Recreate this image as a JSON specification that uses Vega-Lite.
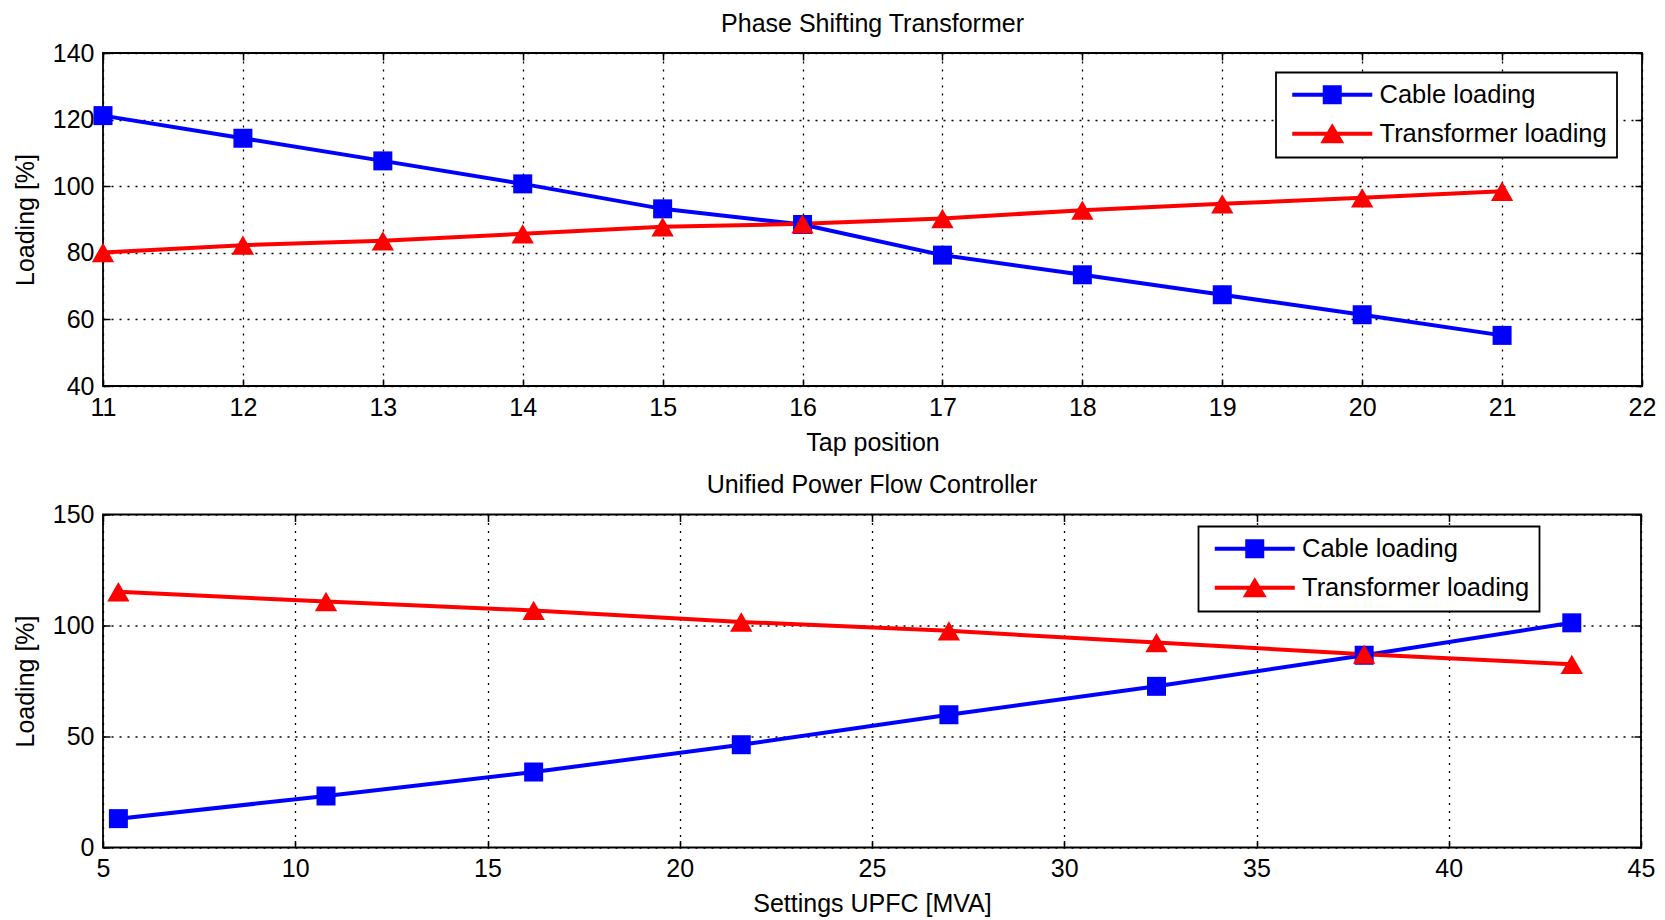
{
  "$schema": "https://vega.github.io/schema/vega-lite/v6.json",
  "background": "white",
  "padding": {"left": 12, "top": 10, "right": 8, "bottom": 4},
  "datasets": {
    "pst": [
      {"tap": 11, "loading": 121.2, "series": "Cable loading"},
      {"tap": 12, "loading": 114.4, "series": "Cable loading"},
      {"tap": 13, "loading": 107.6, "series": "Cable loading"},
      {"tap": 14, "loading": 100.7, "series": "Cable loading"},
      {"tap": 15, "loading": 93.2, "series": "Cable loading"},
      {"tap": 16, "loading": 88.5, "series": "Cable loading"},
      {"tap": 17, "loading": 79.3, "series": "Cable loading"},
      {"tap": 18, "loading": 73.4, "series": "Cable loading"},
      {"tap": 19, "loading": 67.4, "series": "Cable loading"},
      {"tap": 20, "loading": 61.4, "series": "Cable loading"},
      {"tap": 21, "loading": 55.2, "series": "Cable loading"},
      {"tap": 11, "loading": 80.1, "series": "Transformer loading"},
      {"tap": 12, "loading": 82.3, "series": "Transformer loading"},
      {"tap": 13, "loading": 83.6, "series": "Transformer loading"},
      {"tap": 14, "loading": 85.7, "series": "Transformer loading"},
      {"tap": 15, "loading": 87.8, "series": "Transformer loading"},
      {"tap": 16, "loading": 88.7, "series": "Transformer loading"},
      {"tap": 17, "loading": 90.3, "series": "Transformer loading"},
      {"tap": 18, "loading": 92.8, "series": "Transformer loading"},
      {"tap": 19, "loading": 94.7, "series": "Transformer loading"},
      {"tap": 20, "loading": 96.5, "series": "Transformer loading"},
      {"tap": 21, "loading": 98.5, "series": "Transformer loading"}
    ],
    "upfc": [
      {"mva": 5.4, "loading": 13.0, "series": "Cable loading"},
      {"mva": 10.8, "loading": 23.2, "series": "Cable loading"},
      {"mva": 16.2, "loading": 34.0, "series": "Cable loading"},
      {"mva": 21.6, "loading": 46.3, "series": "Cable loading"},
      {"mva": 27.0, "loading": 59.8, "series": "Cable loading"},
      {"mva": 32.4, "loading": 72.6, "series": "Cable loading"},
      {"mva": 37.8, "loading": 86.6, "series": "Cable loading"},
      {"mva": 43.2, "loading": 101.2, "series": "Cable loading"},
      {"mva": 5.4, "loading": 115.2, "series": "Transformer loading"},
      {"mva": 10.8, "loading": 110.8, "series": "Transformer loading"},
      {"mva": 16.2, "loading": 106.8, "series": "Transformer loading"},
      {"mva": 21.6, "loading": 101.6, "series": "Transformer loading"},
      {"mva": 27.0, "loading": 97.6, "series": "Transformer loading"},
      {"mva": 32.4, "loading": 92.3, "series": "Transformer loading"},
      {"mva": 37.8, "loading": 87.1, "series": "Transformer loading"},
      {"mva": 43.2, "loading": 82.5, "series": "Transformer loading"}
    ]
  },
  "config": {
    "font": "Liberation Sans",
    "view": {"stroke": "black", "strokeWidth": 1.8},
    "axis": {
      "labelFont": "Liberation Sans",
      "labelFontSize": 25,
      "labelColor": "black",
      "titleFont": "Liberation Sans",
      "titleFontSize": 25,
      "titleFontWeight": "normal",
      "titleColor": "black",
      "grid": true,
      "gridColor": "black",
      "gridDash": [2, 6],
      "gridWidth": 1.3,
      "gridOpacity": 1,
      "domain": false,
      "tickColor": "black",
      "tickWidth": 1.5,
      "tickSize": -7,
      "labelPadding": 16,
      "labelOverlap": false,
      "labelFlush": false
    },
    "legend": {
      "title": null,
      "labelFont": "Liberation Sans", "labelFontSize": 25.5, "labelColor": "black", "labelLimit": 400,
      "padding": 9.5, "rowPadding": 12, "symbolOffset": 34, "labelOffset": 34.5,
      "strokeColor": "black", "fillColor": "white", "cornerRadius": 0
    },
    "title": {"font": "Liberation Sans", "fontSize": 25, "fontWeight": "normal", "color": "black", "anchor": "middle", "frame": "group", "offset": 4.5},
    "concat": {"spacing": 15.5}
  },
  "resolve": {"scale": {"color": "independent"}, "legend": {"color": "independent"}},
  "vconcat": [
    {
      "title": "Phase Shifting Transformer",
      "width": 1539,
      "height": 333,
      "data": {"name": "pst"},
      "layer": [
        {
          "mark": {"type": "line", "strokeWidth": 4},
          "encoding": {
            "x": {"field": "tap", "type": "quantitative", "scale": {"domain": [11, 22], "nice": false, "zero": false},
                  "axis": {"values": [11, 12, 13, 14, 15, 16, 17, 18, 19, 20, 21, 22], "title": "Tap position", "titlePadding": 10}},
            "y": {"field": "loading", "type": "quantitative", "scale": {"domain": [40, 140], "nice": false, "zero": false},
                  "axis": {"values": [40, 60, 80, 100, 120, 140], "title": "Loading [%]", "titlePadding": 14}},
            "color": {"field": "series", "type": "nominal",
                      "scale": {"domain": ["Cable loading", "Transformer loading"], "range": ["#0000ff", "#ff0000"]},
                      "legend": {
                        "orient": "none", "legendX": 1173, "legendY": 19.5,
                        "encode": {
                          "legend": {"update": {"strokeWidth": {"value": 1.8}}},
                          "symbols": {"update": {
                            "shape": {"signal": "datum.value === 'Cable loading' ? 'M-40,-2H40V2H-40Z M-9.5,-9.5H9.5V9.5H-9.5Z' : 'M-40,-2H40V2H-40Z M0,-10.5L12,9.5H-12Z'"},
                            "size": {"value": 4},
                            "fill": {"signal": "datum.value === 'Cable loading' ? '#0000ff' : '#ff0000'"},
                            "stroke": {"value": null},
                            "strokeWidth": {"value": 0},
                            "opacity": {"value": 1},
                            "fillOpacity": {"value": 1}
                          }}
                        }
                      }}
          }
        },
        {
          "transform": [{"filter": "datum.series === 'Cable loading'"}],
          "mark": {"type": "point", "shape": "square", "filled": true, "opacity": 1, "size": 361, "color": "#0000ff"},
          "encoding": {
            "x": {"field": "tap", "type": "quantitative", "axis": {"orient": "top", "labels": false, "grid": false, "title": null, "values": [11, 12, 13, 14, 15, 16, 17, 18, 19, 20, 21, 22]}},
            "y": {"field": "loading", "type": "quantitative", "axis": {"orient": "right", "labels": false, "grid": false, "title": null, "values": [40, 60, 80, 100, 120, 140]}}
          }
        },
        {
          "transform": [{"filter": "datum.series === 'Transformer loading'"}],
          "mark": {"type": "point", "shape": "triangle-up", "filled": true, "opacity": 1, "size": 500, "color": "#ff0000"},
          "encoding": {
            "x": {"field": "tap", "type": "quantitative", "axis": null},
            "y": {"field": "loading", "type": "quantitative", "axis": null}
          }
        }
      ],
      "resolve": {"axis": {"x": "independent", "y": "independent"}}
    },
    {
      "title": "Unified Power Flow Controller",
      "width": 1538,
      "height": 333,
      "data": {"name": "upfc"},
      "layer": [
        {
          "mark": {"type": "line", "strokeWidth": 4},
          "encoding": {
            "x": {"field": "mva", "type": "quantitative", "scale": {"domain": [5, 45], "nice": false, "zero": false},
                  "axis": {"values": [5, 10, 15, 20, 25, 30, 35, 40, 45], "title": "Settings UPFC [MVA]", "titlePadding": 10}},
            "y": {"field": "loading", "type": "quantitative", "scale": {"domain": [0, 150], "nice": false, "zero": false},
                  "axis": {"values": [0, 50, 100, 150], "title": "Loading [%]", "titlePadding": 14}},
            "color": {"field": "series", "type": "nominal",
                      "scale": {"domain": ["Cable loading", "Transformer loading"], "range": ["#0000ff", "#ff0000"]},
                      "legend": {
                        "orient": "none", "legendX": 1095.5, "legendY": 12,
                        "encode": {
                          "legend": {"update": {"strokeWidth": {"value": 1.8}}},
                          "symbols": {"update": {
                            "shape": {"signal": "datum.value === 'Cable loading' ? 'M-40,-2H40V2H-40Z M-9.5,-9.5H9.5V9.5H-9.5Z' : 'M-40,-2H40V2H-40Z M0,-10.5L12,9.5H-12Z'"},
                            "size": {"value": 4},
                            "fill": {"signal": "datum.value === 'Cable loading' ? '#0000ff' : '#ff0000'"},
                            "stroke": {"value": null},
                            "strokeWidth": {"value": 0},
                            "opacity": {"value": 1},
                            "fillOpacity": {"value": 1}
                          }}
                        }
                      }}
          }
        },
        {
          "transform": [{"filter": "datum.series === 'Cable loading'"}],
          "mark": {"type": "point", "shape": "square", "filled": true, "opacity": 1, "size": 361, "color": "#0000ff"},
          "encoding": {
            "x": {"field": "mva", "type": "quantitative", "axis": {"orient": "top", "labels": false, "grid": false, "title": null, "values": [5, 10, 15, 20, 25, 30, 35, 40, 45]}},
            "y": {"field": "loading", "type": "quantitative", "axis": {"orient": "right", "labels": false, "grid": false, "title": null, "values": [0, 50, 100, 150]}}
          }
        },
        {
          "transform": [{"filter": "datum.series === 'Transformer loading'"}],
          "mark": {"type": "point", "shape": "triangle-up", "filled": true, "opacity": 1, "size": 500, "color": "#ff0000"},
          "encoding": {
            "x": {"field": "mva", "type": "quantitative", "axis": null},
            "y": {"field": "loading", "type": "quantitative", "axis": null}
          }
        }
      ],
      "resolve": {"axis": {"x": "independent", "y": "independent"}}
    }
  ]
}
